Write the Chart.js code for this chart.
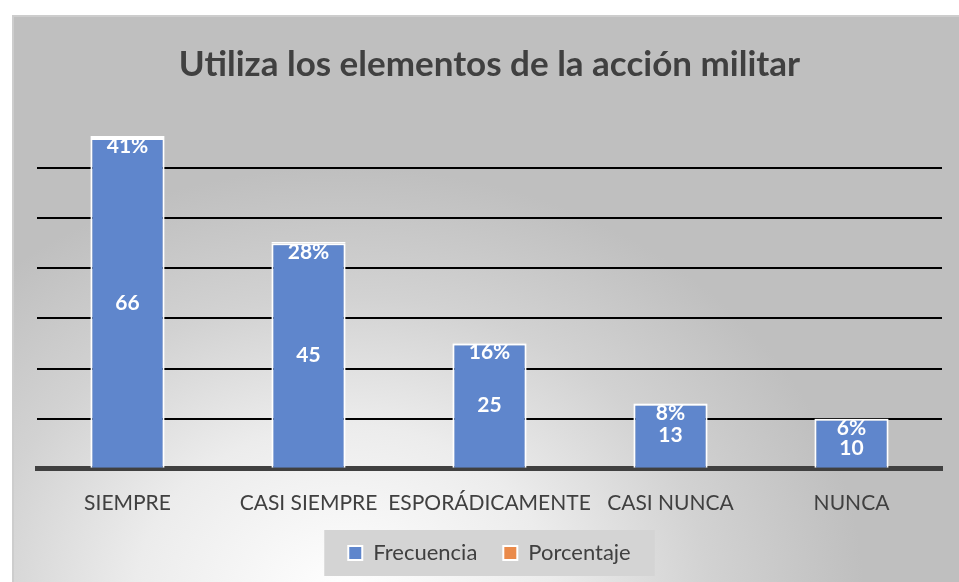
<!DOCTYPE html>
<html>
<head>
<meta charset="utf-8">
<script src="https://cdn.jsdelivr.net/npm/chart.js@4/dist/chart.umd.min.js"></script>
<style>
  body { margin: 0; background: #fff; }
  #wrap {
    position: absolute; left: 12px; top: 15px; width: 947px; height: 567px;
    box-sizing: border-box;
    border-left: 2px solid #cdcdcd; border-top: 2px solid #cdcdcd;
    background: #bfbfbf radial-gradient(ellipse 520px 430px at 330px 580px, #ffffff 0%, #ececec 40%, #d2d2d2 70%, #bfbfbf 100%);
  }
</style>
</head>
<body>
<div id="wrap"><canvas id="chart"></canvas></div>
<script>
const categories = ["SIEMPRE", "CASI SIEMPRE", "ESPORÁDICAMENTE", "CASI NUNCA", "NUNCA"];
const frecuencia = [66, 45, 25, 13, 10];
const porcentaje = [0.41, 0.28, 0.16, 0.08, 0.06];
const gridTicks = [0, 10, 20, 30, 40, 50, 60, 70];

// light grey panel behind the legend
const legendBox = {
  id: "legendBox",
  beforeDraw(chart) {
    const boxes = chart.legend.legendHitBoxes;
    if (!boxes || !boxes.length) return;
    const ctx = chart.ctx;
    const first = boxes[0], last = boxes[boxes.length - 1];
    ctx.save();
    ctx.fillStyle = "#d4d4d4";
    ctx.fillRect(first.left - 24, first.top - 12, last.left + last.width - first.left + 48, first.height + 24);
    ctx.restore();
  }
};

const barLabels = {
  id: "barLabels",
  afterDraw(chart) {
    const ctx = chart.ctx;
    const m0 = chart.getDatasetMeta(0), m1 = chart.getDatasetMeta(1);
    ctx.save();
    ctx.fillStyle = "#ffffff";
    ctx.font = "bold 21px Lato";
    ctx.textAlign = "center";
    ctx.textBaseline = "middle";
    m0.data.forEach(function (bar, i) {
      const top = m1.data[i].y;
      const mid = (bar.y + bar.base) / 2;
      ctx.fillText(Math.round(porcentaje[i] * 100) + "%", bar.x, top + 10);
      ctx.fillText(frecuencia[i], bar.x, Math.max(mid, top + 30));
    });
    ctx.restore();
  }
};

new Chart(document.getElementById("chart"), {
  type: "bar",
  data: {
    labels: categories,
    datasets: [
      {
        label: "Frecuencia",
        data: frecuencia,
        backgroundColor: "#5f86cc",
        borderColor: "#ffffff",
        borderWidth: 2,
        borderSkipped: "bottom",
        barPercentage: 0.41,
        categoryPercentage: 1
      },
      {
        label: "Porcentaje",
        data: porcentaje,
        backgroundColor: "#ea8a4a",
        borderColor: "#ffffff",
        borderWidth: 2,
        borderSkipped: false,
        barPercentage: 0.41,
        categoryPercentage: 1
      }
    ]
  },
  options: {
    responsive: true,
    maintainAspectRatio: false,
    animation: false,
    layout: { padding: { left: 23, right: 17, top: 0, bottom: 8 } },
    plugins: {
      title: {
        display: true,
        text: "Utiliza los elementos de la acción militar",
        color: "#404040",
        font: { family: "Lato", size: 35, weight: "bold" },
        padding: { top: 27, bottom: 32 }
      },
      legend: {
        position: "bottom",
        labels: {
          color: "#404040",
          font: { family: "Lato", size: 22 },
          boxWidth: 14,
          boxHeight: 14,
          padding: 26,
          generateLabels(chart) {
            return chart.data.datasets.map(function (ds, i) {
              return {
                text: ds.label,
                fillStyle: ds.backgroundColor,
                strokeStyle: "#ffffff",
                lineWidth: 2,
                fontColor: "#404040",
                datasetIndex: i
              };
            });
          }
        }
      },
      tooltip: { enabled: false }
    },
    scales: {
      x: {
        stacked: true,
        afterFit(scale) { scale.height -= 22; },
        grid: { display: false, drawTicks: false },
        border: { color: "#404040", width: 5 },
        ticks: { color: "#404040", font: { family: "Lato", size: 21 }, padding: 22, maxRotation: 0, autoSkip: false }
      },
      y: {
        stacked: true,
        min: 0,
        max: 70,
        z: 1,
        afterBuildTicks(scale) {
          scale.ticks = gridTicks.map(function (v) { return { value: v }; });
        },
        grid: {
          drawTicks: false,
          lineWidth: 2,
          color: function (c) {
            const v = c.tick ? c.tick.value : 0;
            return v > 0 && v < 70 ? "#000000" : "rgba(0,0,0,0)";
          }
        },
        border: { display: false },
        ticks: { display: false }
      }
    }
  },
  plugins: [legendBox, barLabels]
});
</script>
</body>
</html>
